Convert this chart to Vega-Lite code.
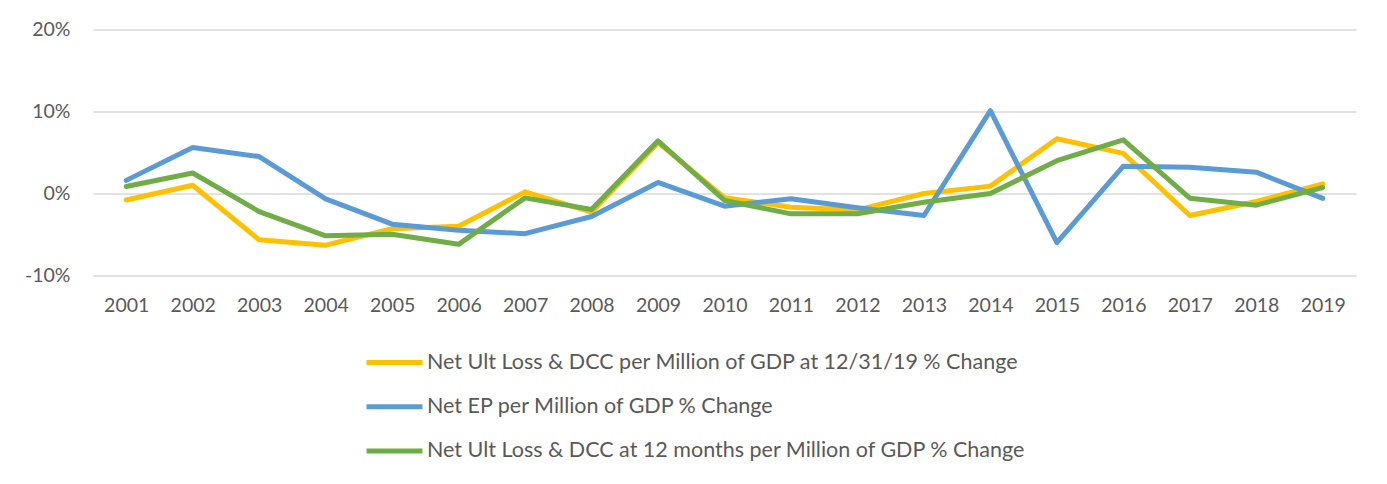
{
  "$schema": "https://vega.github.io/schema/vega-lite/v6.json",
  "width": 1263,
  "height": 246,
  "autosize": {"type": "none"},
  "padding": {"left": 93, "top": 29.5, "right": 31, "bottom": 208.5},
  "background": "white",
  "config": {"view": {"stroke": null}},
  "datasets": {
    "rows": [
      {"year": "2001", "series": "Net Ult Loss & DCC per Million of GDP at 12/31/19 % Change", "value": -0.008},
      {"year": "2002", "series": "Net Ult Loss & DCC per Million of GDP at 12/31/19 % Change", "value": 0.010},
      {"year": "2003", "series": "Net Ult Loss & DCC per Million of GDP at 12/31/19 % Change", "value": -0.0565},
      {"year": "2004", "series": "Net Ult Loss & DCC per Million of GDP at 12/31/19 % Change", "value": -0.063},
      {"year": "2005", "series": "Net Ult Loss & DCC per Million of GDP at 12/31/19 % Change", "value": -0.043},
      {"year": "2006", "series": "Net Ult Loss & DCC per Million of GDP at 12/31/19 % Change", "value": -0.040},
      {"year": "2007", "series": "Net Ult Loss & DCC per Million of GDP at 12/31/19 % Change", "value": 0.002},
      {"year": "2008", "series": "Net Ult Loss & DCC per Million of GDP at 12/31/19 % Change", "value": -0.0228},
      {"year": "2009", "series": "Net Ult Loss & DCC per Million of GDP at 12/31/19 % Change", "value": 0.062},
      {"year": "2010", "series": "Net Ult Loss & DCC per Million of GDP at 12/31/19 % Change", "value": -0.005},
      {"year": "2011", "series": "Net Ult Loss & DCC per Million of GDP at 12/31/19 % Change", "value": -0.0167},
      {"year": "2012", "series": "Net Ult Loss & DCC per Million of GDP at 12/31/19 % Change", "value": -0.020},
      {"year": "2013", "series": "Net Ult Loss & DCC per Million of GDP at 12/31/19 % Change", "value": 0.000},
      {"year": "2014", "series": "Net Ult Loss & DCC per Million of GDP at 12/31/19 % Change", "value": 0.009},
      {"year": "2015", "series": "Net Ult Loss & DCC per Million of GDP at 12/31/19 % Change", "value": 0.0667},
      {"year": "2016", "series": "Net Ult Loss & DCC per Million of GDP at 12/31/19 % Change", "value": 0.049},
      {"year": "2017", "series": "Net Ult Loss & DCC per Million of GDP at 12/31/19 % Change", "value": -0.0268},
      {"year": "2018", "series": "Net Ult Loss & DCC per Million of GDP at 12/31/19 % Change", "value": -0.0098},
      {"year": "2019", "series": "Net Ult Loss & DCC per Million of GDP at 12/31/19 % Change", "value": 0.0118},
      {"year": "2001", "series": "Net EP per Million of GDP  % Change", "value": 0.016},
      {"year": "2002", "series": "Net EP per Million of GDP  % Change", "value": 0.056},
      {"year": "2003", "series": "Net EP per Million of GDP  % Change", "value": 0.045},
      {"year": "2004", "series": "Net EP per Million of GDP  % Change", "value": -0.0065},
      {"year": "2005", "series": "Net EP per Million of GDP  % Change", "value": -0.0374},
      {"year": "2006", "series": "Net EP per Million of GDP  % Change", "value": -0.0447},
      {"year": "2007", "series": "Net EP per Million of GDP  % Change", "value": -0.049},
      {"year": "2008", "series": "Net EP per Million of GDP  % Change", "value": -0.028},
      {"year": "2009", "series": "Net EP per Million of GDP  % Change", "value": 0.0135},
      {"year": "2010", "series": "Net EP per Million of GDP  % Change", "value": -0.0155},
      {"year": "2011", "series": "Net EP per Million of GDP  % Change", "value": -0.0065},
      {"year": "2012", "series": "Net EP per Million of GDP  % Change", "value": -0.0175},
      {"year": "2013", "series": "Net EP per Million of GDP  % Change", "value": -0.0268},
      {"year": "2014", "series": "Net EP per Million of GDP  % Change", "value": 0.101},
      {"year": "2015", "series": "Net EP per Million of GDP  % Change", "value": -0.060},
      {"year": "2016", "series": "Net EP per Million of GDP  % Change", "value": 0.0333},
      {"year": "2017", "series": "Net EP per Million of GDP  % Change", "value": 0.032},
      {"year": "2018", "series": "Net EP per Million of GDP  % Change", "value": 0.026},
      {"year": "2019", "series": "Net EP per Million of GDP  % Change", "value": -0.006},
      {"year": "2001", "series": "Net Ult Loss & DCC at 12 months per Million of GDP % Change", "value": 0.0085},
      {"year": "2002", "series": "Net Ult Loss & DCC at 12 months per Million of GDP % Change", "value": 0.025},
      {"year": "2003", "series": "Net Ult Loss & DCC at 12 months per Million of GDP % Change", "value": -0.022},
      {"year": "2004", "series": "Net Ult Loss & DCC at 12 months per Million of GDP % Change", "value": -0.0516},
      {"year": "2005", "series": "Net Ult Loss & DCC at 12 months per Million of GDP % Change", "value": -0.0496},
      {"year": "2006", "series": "Net Ult Loss & DCC at 12 months per Million of GDP % Change", "value": -0.062},
      {"year": "2007", "series": "Net Ult Loss & DCC at 12 months per Million of GDP % Change", "value": -0.0053},
      {"year": "2008", "series": "Net Ult Loss & DCC at 12 months per Million of GDP % Change", "value": -0.0195},
      {"year": "2009", "series": "Net Ult Loss & DCC at 12 months per Million of GDP % Change", "value": 0.0642},
      {"year": "2010", "series": "Net Ult Loss & DCC at 12 months per Million of GDP % Change", "value": -0.0085},
      {"year": "2011", "series": "Net Ult Loss & DCC at 12 months per Million of GDP % Change", "value": -0.0248},
      {"year": "2012", "series": "Net Ult Loss & DCC at 12 months per Million of GDP % Change", "value": -0.0248},
      {"year": "2013", "series": "Net Ult Loss & DCC at 12 months per Million of GDP % Change", "value": -0.0106},
      {"year": "2014", "series": "Net Ult Loss & DCC at 12 months per Million of GDP % Change", "value": 0.000},
      {"year": "2015", "series": "Net Ult Loss & DCC at 12 months per Million of GDP % Change", "value": 0.040},
      {"year": "2016", "series": "Net Ult Loss & DCC at 12 months per Million of GDP % Change", "value": 0.0654},
      {"year": "2017", "series": "Net Ult Loss & DCC at 12 months per Million of GDP % Change", "value": -0.0057},
      {"year": "2018", "series": "Net Ult Loss & DCC at 12 months per Million of GDP % Change", "value": -0.0142},
      {"year": "2019", "series": "Net Ult Loss & DCC at 12 months per Million of GDP % Change", "value": 0.0073}
    ]
  },
  "data": {"name": "rows"},
  "mark": {"type": "line", "strokeWidth": 5, "strokeCap": "round", "strokeJoin": "round"},
  "encoding": {
    "x": {
      "field": "year", "type": "ordinal",
      "scale": {"type": "point", "padding": 0.5},
      "axis": {"title": null, "labelAngle": 0, "domain": false, "ticks": false, "grid": false,
               "labelFont": "Lato", "labelFontSize": 19.5, "labelColor": "#595959", "labelPadding": 21}
    },
    "y": {
      "field": "value", "type": "quantitative",
      "scale": {"domain": [-0.1, 0.2], "nice": false, "zero": false},
      "axis": {"title": null, "values": [-0.1, 0, 0.1, 0.2], "labelExpr": "round(datum.value*100) + '%'",
               "domain": false, "ticks": false, "gridColor": "#D9D9D9", "gridWidth": 1.3,
               "labelFont": "Lato", "labelFontSize": 19.5, "labelColor": "#595959", "labelPadding": 23}
    },
    "color": {
      "field": "series", "type": "nominal",
      "scale": {
        "domain": ["Net Ult Loss & DCC per Million of GDP at 12/31/19 % Change", "Net EP per Million of GDP  % Change", "Net Ult Loss & DCC at 12 months per Million of GDP % Change"],
        "range": ["#FFC000", "#5B9BD5", "#70AD47"]
      },
      "legend": {
        "title": null, "orient": "none", "legendX": 271, "legendY": 302.5, "direction": "vertical",
        "symbolType": "stroke", "symbolSize": 3136, "symbolStrokeWidth": 5,
        "labelFont": "Lato", "labelFontSize": 21.5, "labelColor": "#595959",
        "labelOffset": 2, "rowPadding": 3.2, "labelLimit": 0
      }
    }
  }
}
